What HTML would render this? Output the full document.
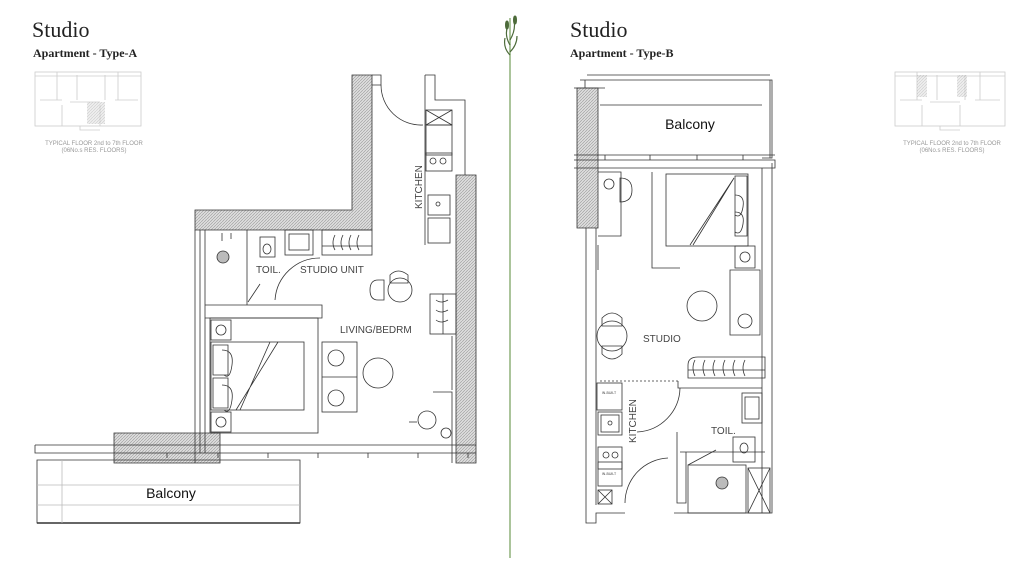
<!DOCTYPE html>
<html><head><meta charset="utf-8"><style>
html,body{margin:0;padding:0;background:#fff;}
svg{display:block;}
.t{font-family:"Liberation Serif",serif;fill:#222;}
.s{font-family:"Liberation Sans",sans-serif;fill:#444;}
</style></head><body>
<svg width="1024" height="580" viewBox="0 0 1024 580" xmlns="http://www.w3.org/2000/svg">
<defs>
<pattern id="h" width="3" height="3" patternUnits="userSpaceOnUse"><rect width="3" height="3" fill="#ddd"/><path d="M0 3L3 0" stroke="#999" stroke-width="0.6"/></pattern>
</defs>
<!-- headers -->
<text class="t" x="32" y="37" font-size="22">Studio</text>
<text class="t" x="33" y="57" font-size="12" font-weight="bold">Apartment - Type-A</text>
<text class="t" x="570" y="37" font-size="22">Studio</text>
<text class="t" x="570" y="57" font-size="12" font-weight="bold">Apartment - Type-B</text>
<!-- key plans -->
<g fill="none" stroke="#ccc" stroke-width="0.8">
<rect x="35" y="72" width="106" height="54"/><path d="M35 76H141M57 72V100M77 75V100M105 75V100M118 72V100M40 100H62M70 102H100M115 100H138M62 105V126M100 105V126M80 126V130H100"/>
<rect x="383" y="72" width="0" height="0"/>
<rect x="895" y="72" width="110" height="54"/><path d="M895 76H1005M917 72V100M937 75V100M965 75V100M980 72V100M900 100H922M930 102H960M975 100H1000M922 105V126M960 105V126M940 126V130H960"/>
</g>
<rect x="87" y="102" width="18" height="22" fill="url(#h)" opacity="0.5"/>
<rect x="917" y="75" width="10" height="22" fill="url(#h)" opacity="0.5"/><rect x="957" y="75" width="10" height="22" fill="url(#h)" opacity="0.5"/>
<text class="s" x="94" y="145" font-size="6" text-anchor="middle" fill="#999" style="fill:#999">TYPICAL FLOOR 2nd to 7th FLOOR</text>
<text class="s" x="94" y="152" font-size="6" text-anchor="middle" style="fill:#999">(06No.s RES. FLOORS)</text>
<text class="s" x="952" y="145" font-size="6" text-anchor="middle" style="fill:#999">TYPICAL FLOOR 2nd to 7th FLOOR</text>
<text class="s" x="952" y="152" font-size="6" text-anchor="middle" style="fill:#999">(06No.s RES. FLOORS)</text>
<!-- divider -->
<line x1="510" y1="18" x2="510" y2="558" stroke="#8fb07a" stroke-width="1.5"/>
<g stroke="#4d6b3a" fill="#4d6b3a"><path d="M510 45Q504 35 508 25M510 40Q516 30 514 20M510 55Q503 48 505 38M510 52Q517 45 517 36" fill="none" stroke-width="1.2"/><ellipse cx="507" cy="25" rx="1.5" ry="4"/><ellipse cx="515" cy="20" rx="1.5" ry="4"/></g>

<!-- PLAN A -->
<g stroke="#333" stroke-width="0.8" fill="none">
<path d="M352 75H372V230H195V210H352Z" fill="url(#h)"/>
<path d="M456 175H476V463H456Z" fill="url(#h)"/>
<path d="M114 433H220V463H114Z" fill="url(#h)"/>
<path d="M372 75H381V85H372"/>
<path d="M425 75H435V100H465V175"/><path d="M425 75V245"/>
<rect x="426" y="110" width="26" height="15"/><path d="M426 110L452 125M452 110L426 125"/>
<rect x="426" y="125" width="26" height="30"/><rect x="426" y="153" width="26" height="18"/>
<circle cx="433" cy="161" r="3"/><circle cx="443" cy="161" r="3"/>
<rect x="428" y="195" width="22" height="20"/><circle cx="438" cy="204" r="2"/>
<rect x="428" y="218" width="22" height="25"/>
<path d="M381 85A40 40 0 0 0 423 125"/>
<path d="M195 230V463M200 230V453M205 230V453"/>
<path d="M205 305H322V318H205"/>
<rect x="210" y="318" width="108" height="115"/>
<rect x="211" y="320" width="20" height="20"/><circle cx="221" cy="330" r="5"/>
<rect x="211" y="412" width="20" height="20"/><circle cx="221" cy="422" r="5"/>
<rect x="211" y="342" width="93" height="68"/><path d="M278 342L236 410M270 342L240 410"/>
<path d="M213 345h15v30h-15zM213 378h15v30h-15z"/>
<path d="M222 350q12 0 10 15t-8 10M222 385q12 0 10 15t-8 10"/>
<path d="M247 230V305M222 233v8M231 233v6"/><circle cx="223" cy="257" r="6" fill="#bbb"/>
<rect x="260" y="237" width="15" height="20"/><ellipse cx="267" cy="249" rx="4" ry="5"/>
<rect x="285" y="230" width="28" height="25"/><rect x="289" y="234" width="20" height="16"/>
<rect x="322" y="230" width="50" height="25"/><path d="M335 235q-4 8 0 15M343 235q-4 8 0 15M351 235q-4 8 0 15M359 235q-4 8 0 15M322 246H372"/>
<path d="M275 300A45 45 0 0 1 320 258"/>
<path d="M248 302l12 -18"/>
<rect x="322" y="342" width="35" height="70"/><path d="M322 377H357"/>
<circle cx="336" cy="358" r="8"/><circle cx="336" cy="398" r="8"/>
<circle cx="378" cy="373" r="15"/>
<circle cx="400" cy="290" r="12"/><path d="M390 275q8 -8 18 0v8h-18zM370 290q0 -10 8 -10h6v20h-6q-8 0 -8 -10"/>
<rect x="430" y="294" width="26" height="40"/><path d="M436 300q5 4 12 0M436 310q5 4 12 0M436 320q5 4 12 0M443 294V334"/>
<path d="M452 336V390"/><path d="M433 392H452V463"/>
<circle cx="427" cy="420" r="9"/><circle cx="446" cy="433" r="5"/><path d="M409 422h8"/>
<path d="M35 445H476M35 445V453H476M35 453H476"/>
<path d="M167 453v5M218 453v5M268 453v5M318 453v5M368 453v5M418 453v5M468 453v5"/>
<path d="M37 460H300V523H37Z"/><path d="M37 523H300" stroke-width="1.6"/>
<path d="M62 460V523M37 485H300M37 505H300" stroke="#bbb"/>
</g>
<text class="s" x="256" y="273" font-size="10">TOIL.</text>
<text class="s" x="300" y="273" font-size="10">STUDIO UNIT</text>
<text class="s" x="340" y="333" font-size="10">LIVING/BEDRM</text>
<text class="s" x="422" y="209" font-size="10" transform="rotate(-90 422 209)">KITCHEN</text>
<text x="171" y="498" font-family="Liberation Sans,sans-serif" font-size="14" text-anchor="middle" fill="#111">Balcony</text>

<!-- PLAN B -->
<g stroke="#333" stroke-width="0.8" fill="none">
<path d="M577 88H598V228H577Z" fill="url(#h)"/>
<path d="M587 75H770M580 80H600M574 88H605M585 80V88"/>
<path d="M600 80H770V158M600 105H762M762 80H772V158H762"/>
<path d="M574 155H775M574 160H775V168H574"/>
<path d="M605 155v5M650 155v5M697 155v5M743 155v5"/>
<path d="M586 228V523H596V513H625M596 228V505"/>
<path d="M674 513H772V163"/><path d="M762 168V513"/>
<path d="M598 172H621V236H598"/>
<circle cx="609" cy="184" r="5"/><path d="M620 178q12 0 12 12t-12 12z"/>
<path d="M652 172V268H680"/>
<rect x="666" y="174" width="82" height="72"/><path d="M734 178L693 245M734 178L690 245"/>
<path d="M735 176h12v60h-12z"/><path d="M735 195q10 0 8 12t-8 8M735 212q10 0 8 12t-8 8"/>
<rect x="735" y="246" width="20" height="22"/><circle cx="745" cy="257" r="5"/>
<path d="M730 270H760V335H730Z"/><circle cx="745" cy="321" r="7"/>
<path d="M598 245V270"/>
<circle cx="702" cy="306" r="15"/>
<circle cx="612" cy="336" r="15"/><path d="M602 318q10 -10 20 0v8h-20zM602 354q10 10 20 0v-8h-20z"/>
<path d="M688 378V365q0 -8 10 -8H765V378Z"/><path d="M688 370H765M695 360q-4 8 0 16M705 360q-4 8 0 16M715 360q-4 8 0 16M725 360q-4 8 0 16M735 360q-4 8 0 16M745 360q-4 8 0 16"/>
<path d="M600 381H678" stroke-dasharray="2 2"/>
<path d="M678 381V388H762"/>
<rect x="597" y="383" width="25" height="27"/><rect x="598" y="412" width="24" height="23"/><rect x="601" y="415" width="18" height="17"/><circle cx="610" cy="423" r="2"/>
<rect x="598" y="447" width="24" height="22"/><circle cx="606" cy="455" r="3"/><circle cx="615" cy="455" r="3"/>
<rect x="598" y="462" width="24" height="24"/>
<rect x="598" y="490" width="14" height="14"/><path d="M598 490l14 14M612 490l-14 14"/>
<path d="M625 503A45 45 0 0 1 668 458"/><path d="M680 388A45 45 0 0 1 637 432"/>
<path d="M677 432V503H686V452"/><path d="M680 452H765"/>
<rect x="742" y="393" width="20" height="30"/><rect x="745" y="397" width="14" height="22"/>
<rect x="733" y="437" width="22" height="25"/><ellipse cx="744" cy="448" rx="4" ry="5"/>
<path d="M688 465l28 -15"/>
<rect x="688" y="465" width="58" height="48"/><circle cx="722" cy="483" r="6" fill="#bbb"/>
<rect x="748" y="468" width="22" height="45"/><path d="M748 468l22 45M770 468l-22 45"/>
</g>
<text x="690" y="129" font-family="Liberation Sans,sans-serif" font-size="14" text-anchor="middle" fill="#111">Balcony</text>
<text class="s" x="643" y="342" font-size="10">STUDIO</text>
<text class="s" x="711" y="434" font-size="10">TOIL.</text>
<text class="s" x="636" y="443" font-size="10" transform="rotate(-90 636 443)">KITCHEN</text>
<text class="s" x="609" y="394" font-size="3.5" text-anchor="middle">IN-BUILT</text>
<text class="s" x="609" y="475" font-size="3.5" text-anchor="middle">IN-BUILT</text>
</svg>
</body></html>
